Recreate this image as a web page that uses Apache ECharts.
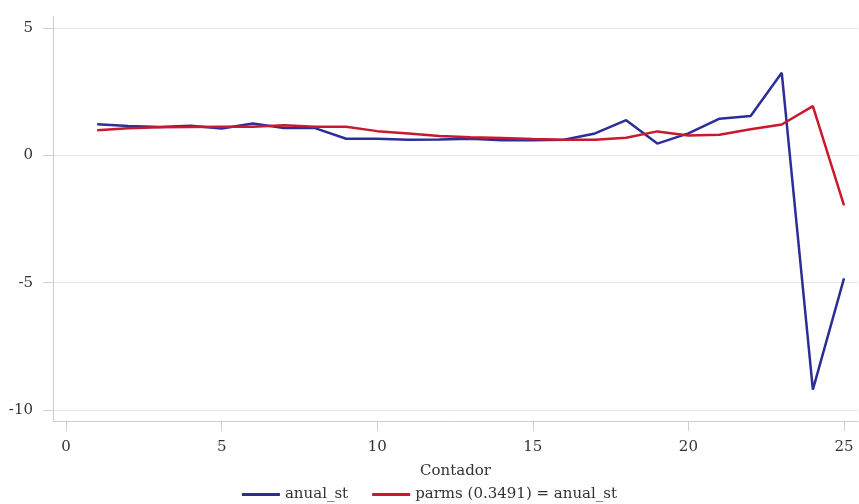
<!DOCTYPE html>
<html>
<head>
<meta charset="utf-8">
<script src="https://cdn.jsdelivr.net/npm/echarts@6/dist/echarts.min.js"></script>
<style>
  html, body { margin: 0; padding: 0; background: #fff; }
  #chart { width: 859px; height: 504px; }
</style>
</head>
<body>
<div id="chart"></div>
<script>
// contador 1..25
const contador = [1, 2, 3, 4, 5, 6, 7, 8, 9, 10, 11, 12, 13, 14, 15, 16, 17, 18, 19, 20, 21, 22, 23, 24, 25]
const anualSt = [1.22, 1.15, 1.11, 1.16, 1.05, 1.25, 1.07, 1.07, 0.65, 0.65, 0.61, 0.62, 0.65, 0.59, 0.59, 0.61, 0.86, 1.38, 0.46, 0.86, 1.44, 1.54, 3.24, -9.2, -4.83]
const parms = [0.98, 1.06, 1.1, 1.11, 1.12, 1.12, 1.18, 1.12, 1.12, 0.95, 0.86, 0.76, 0.71, 0.68, 0.64, 0.61, 0.61, 0.69, 0.94, 0.78, 0.81, 1.02, 1.21, 1.93, -1.96]
const xTicks = [0, 5, 10, 15, 20, 25]
const yTicks = [-10, -5, 0, 5]

const font = 'DejaVu Serif'
const textColor = '#333'
const axisColor = '#cfcfcf'

const chart = echarts.init(document.getElementById('chart'))

const option = {
  animation: false,
  textStyle: { fontFamily: font },
  grid: { left: 53, right: 1, top: 16, bottom: 83, containLabel: false },
  legend: {
    top: 487,
    left: 'center',
    icon: 'rect',
    itemWidth: 38,
    itemHeight: 3,
    itemGap: 24,
    padding: 0,
    textStyle: { fontFamily: font, fontSize: 15, color: textColor },
    data: ['anual_st', 'parms (0.3491) = anual_st']
  },
  xAxis: {
    type: 'value',
    min: -0.42,
    max: 25.45,
    name: 'Contador',
    nameLocation: 'middle',
    nameGap: 43,
    nameTextStyle: { fontFamily: font, fontSize: 15, color: textColor },
    axisLine: { onZero: false, lineStyle: { color: axisColor, width: 1 } },
    axisTick: { show: true, length: 10, lineStyle: { color: axisColor }, customValues: xTicks },
    axisLabel: { fontFamily: font, fontSize: 15, color: textColor, margin: 19, customValues: xTicks },
    splitLine: { show: false }
  },
  yAxis: {
    type: 'value',
    min: -10.43,
    max: 5.47,
    axisLine: { show: true, onZero: false, lineStyle: { color: axisColor, width: 1 } },
    axisTick: { show: true, length: 10, lineStyle: { color: axisColor }, customValues: yTicks },
    axisLabel: { fontFamily: font, fontSize: 15, color: textColor, margin: 20, customValues: yTicks },
    splitLine: { show: true, lineStyle: { color: '#e6e6e6', width: 1 } }
  },
  series: [
    {
      name: 'anual_st',
      type: 'line',
      showSymbol: false,
      data: contador.map((c, i) => [c, anualSt[i]]),
      lineStyle: { color: '#2b2e96', width: 2.5 },
      itemStyle: { color: '#2b2e96' }
    },
    {
      name: 'parms (0.3491) = anual_st',
      type: 'line',
      showSymbol: false,
      data: contador.map((c, i) => [c, parms[i]]),
      lineStyle: { color: '#c8192f', width: 2.5 },
      itemStyle: { color: '#c8192f' }
    }
  ]
}

chart.setOption(option)
</script>
</body>
</html>
